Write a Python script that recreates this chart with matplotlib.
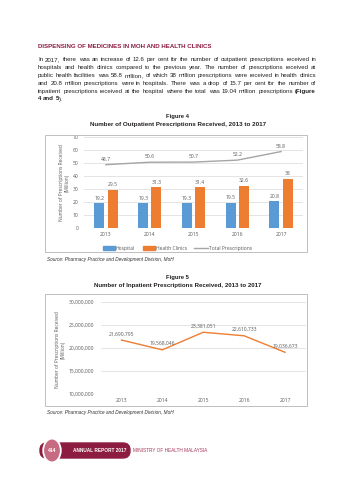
import matplotlib
matplotlib.use("Agg")
import matplotlib.pyplot as plt
from matplotlib.patches import Rectangle, FancyBboxPatch, Circle
from matplotlib.lines import Line2D

# ---------------- data ----------------
years = ["2013", "2014", "2015", "2016", "2017"]
hospital = [19.2, 19.3, 19.3, 19.5, 20.8]
clinics = [29.5, 31.3, 31.4, 32.6, 38]
total = [48.7, 50.6, 50.7, 52.2, 58.8]
hospital_labels = ["19.2", "19.3", "19.3", "19.5", "20.8"]
clinics_labels = ["29.5", "31.3", "31.4", "32.6", "38"]
total_labels = ["48.7", "50.6", "50.7", "52.2", "58.8"]
y1_ticks = [0, 10, 20, 30, 40, 50, 60, 70]

inpatient = [21690795, 19568046, 23381051, 22610733, 19036673]
y2_ticks = [10000000, 15000000, 20000000, 25000000, 30000000]

heading = "DISPENSING OF MEDICINES IN MOH AND HEALTH CLINICS"
para_lines = [
    [("In 2017, there was an increase of 12.6 per cent for the number of outpatient prescriptions received in", "normal")],
    [("hospitals and health clinics compared to the previous year. The number of prescriptions received at", "normal")],
    [("public health facilities was 58.8 million, of which 38 million prescriptions were received in health clinics", "normal")],
    [("and 20.8 million prescriptions were in hospitals. There was a drop of 15.7 per cent for the number of", "normal")],
    [("inpatient prescriptions received at the hospital where the total was 19.04 million prescriptions", "normal"), ("(Figure", "bold")],
    [("4 and 5", "bold"), (").", "normal")],
]
fig4_label = "Figure 4"
fig4_title = "Number of Outpatient Prescriptions Received, 2013 to 2017"
fig5_label = "Figure 5"
fig5_title = "Number of Inpatient Prescriptions Received, 2013 to 2017"
ylabel = "Number of Prescriptions Received\n(Million)"
source = "Source: Pharmacy Practice and Development Division, MoH"

# ---------------- styles ----------------
W, H = 355, 480
MAROON = "#8C1D40"
BLUE = "#5B9BD5"
ORANGE = "#ED7D31"
GREY = "#A5A5A5"
TXT = "#595959"
GRID = "#D9D9D9"
PAGEFONT = ["Liberation Sans", "DejaVu Sans"]
CHARTFONT = ["Open Sans", "DejaVu Sans"]

fig = plt.figure(figsize=(W / 100, H / 100), dpi=100)
fig.patch.set_facecolor("white")
renderer = fig.canvas.get_renderer()


def P(x, y):
    return x / W, 1 - y / H


def ftext(x, y, s, **kw):
    kw.setdefault("va", "center")
    kw.setdefault("family", PAGEFONT)
    return fig.text(*P(x, y), s, **kw)


def fit(x, y, s, width, ha="left", **kw):
    t = ftext(x, y, s, fontsize=5, ha=ha, **kw)
    bb = t.get_window_extent(renderer)
    t.set_fontsize(5 * width / bb.width)
    return t


def wwidth(s, fs, weight):
    t = ftext(100, 100, s, fontsize=fs, fontweight=weight)
    w = t.get_window_extent(renderer).width
    t.remove()
    return w


# ---------------- page text ----------------
fit(38, 46.5, heading, 179, color=MAROON, fontweight="bold")

x0, x1 = 38, 316
# font size chosen so the widest justified line fits the column naturally
nat = []
for segs in para_lines[:-1]:
    s = " ".join(t for t, _ in segs)
    nat.append(wwidth(s, 10, "normal"))
FS = 10 * (x1 - x0 - 2) / max(nat)

line_y = [59.5, 67.4, 75.3, 83.2, 91.1, 99.0]
for i, segs in enumerate(para_lines):
    words = []
    for s, wt in segs:
        for w in s.split(" "):
            words.append((w, wt))
    y = line_y[i]
    if i == len(para_lines) - 1:
        x = x0
        sp = wwidth("a b", FS, "normal") - wwidth("ab", FS, "normal")
        for w, wt in words:
            ftext(x, y, w, fontsize=FS, fontweight=wt, color="#231F20")
            x += wwidth(w, FS, wt) + (0 if w == "5" else sp)
        continue
    widths = [wwidth(w, FS, wt) for w, wt in words]
    gap = ((x1 - x0) - sum(widths)) / (len(words) - 1)
    x = x0
    for (w, wt), wd in zip(words, widths):
        ftext(x, y, w, fontsize=FS, fontweight=wt, color="#231F20")
        x += wd + gap

fit(177.5, 116.5, fig4_label, 23, ha="center", fontweight="bold", color="#231F20")
fit(178.5, 124.5, fig4_title, 177, ha="center", fontweight="bold", color="#231F20")
fit(177.5, 278, fig5_label, 23, ha="center", fontweight="bold", color="#231F20")
fit(178, 286, fig5_title, 170, ha="center", fontweight="bold", color="#231F20")

# chart boxes
for (bx0, by0, bx1, by1) in [(45, 134.5, 307, 252), (45, 293.5, 307, 405.5)]:
    fig.patches.append(Rectangle(P(bx0, by1), (bx1 - bx0) / W, (by1 - by0) / H,
                                 transform=fig.transFigure, fill=False,
                                 edgecolor="#BFBFBF", lw=0.7))

# ---------------- chart 1 ----------------
ax1 = fig.add_axes([84 / W, 1 - 228 / H, (303 - 84) / W, (228 - 137) / H])
xs = list(range(len(years)))
bw = 0.23
off = 0.152
ax1.bar([x - off for x in xs], hospital, width=bw, color=BLUE, zorder=3)
ax1.bar([x + off for x in xs], clinics, width=bw, color=ORANGE, zorder=3)
ax1.plot(xs, total, color=GREY, lw=1.0, zorder=4)
lab_kw = dict(textcoords="offset points", ha="center", va="bottom",
              fontsize=3.6, color=TXT, family=CHARTFONT)
for x, v, s in zip(xs, hospital, hospital_labels):
    ax1.annotate(s, (x - off, v), xytext=(0, 1.6), **lab_kw)
for x, v, s in zip(xs, clinics, clinics_labels):
    ax1.annotate(s, (x + off, v), xytext=(0, 1.6), **lab_kw)
for x, v, s in zip(xs, total, total_labels):
    ax1.annotate(s, (x, v), xytext=(0, 2.2), **lab_kw)
ax1.set_xlim(-0.5, 4.5)
ax1.set_ylim(0, 70)
ax1.set_yticks(y1_ticks)
ax1.set_xticks(xs)
ax1.set_xticklabels(years)
ax1.grid(axis="y", color=GRID, lw=0.5, zorder=0)
ax1.set_axisbelow(True)
for sp in ax1.spines.values():
    sp.set_visible(False)
ax1.tick_params(axis="both", length=0, labelsize=3.6, labelcolor=TXT)
ax1.tick_params(axis="y", pad=4.2)
ax1.tick_params(axis="x", pad=3.0)
for lbl in ax1.get_xticklabels() + ax1.get_yticklabels():
    lbl.set_family(CHARTFONT)
ax1.set_facecolor("none")
ftext(64.5, 182.5, ylabel, rotation=90, ha="center", fontsize=3.5, color=TXT,
      family=CHARTFONT, linespacing=1.25, multialignment="center")

# legend 1
ly = 248
fig.patches.append(Rectangle(P(103, ly + 2), 12 / W, 4 / H, transform=fig.transFigure,
                             color=BLUE))
ftext(116, ly, "Hospital", fontsize=3.6, color=TXT, family=CHARTFONT)
fig.patches.append(Rectangle(P(143, ly + 2), 12 / W, 4 / H, transform=fig.transFigure,
                             color=ORANGE))
ftext(156.5, ly, "Health Clinics", fontsize=3.6, color=TXT, family=CHARTFONT)
fig.lines.append(Line2D([194 / W, 208 / W], [1 - ly / H, 1 - ly / H],
                        transform=fig.transFigure, color=GREY, lw=1.0))
ftext(209, ly, "Total Prescriptions", fontsize=3.6, color=TXT, family=CHARTFONT)

ftext(47, 259.5, source, fontsize=3.4, style="italic", color="#333333")

# ---------------- chart 2 ----------------
ax2 = fig.add_axes([101 / W, 1 - 394 / H, (305.5 - 101) / W, (394 - 301.7) / H])
ax2.plot(xs, inpatient, color=ORANGE, lw=1.0, zorder=3)
for x, v in zip(xs, inpatient):
    ax2.annotate(f"{v:,}", (x, v), xytext=(0, 2.6), **lab_kw)
ax2.set_xlim(-0.5, 4.5)
ax2.set_ylim(10000000, 30000000)
ax2.set_yticks(y2_ticks)
ax2.set_yticklabels([f"{t:,}" for t in y2_ticks])
ax2.set_xticks(xs)
ax2.set_xticklabels(years)
ax2.grid(axis="y", color=GRID, lw=0.5, zorder=0)
for sp in ax2.spines.values():
    sp.set_visible(False)
ax2.tick_params(axis="both", length=0, labelsize=3.6, labelcolor=TXT)
ax2.tick_params(axis="y", pad=5.0)
ax2.tick_params(axis="x", pad=3.0)
for lbl in ax2.get_xticklabels() + ax2.get_yticklabels():
    lbl.set_family(CHARTFONT)
ax2.set_facecolor("none")
ftext(60, 350, ylabel, rotation=90, ha="center", fontsize=3.5, color=TXT,
      family=CHARTFONT, linespacing=1.25, multialignment="center")

ftext(47, 412.5, source, fontsize=3.4, style="italic", color="#333333")

# ---------------- footer ----------------
fig.patches.append(FancyBboxPatch(P(40, 458), 90 / W, 15 / H,
                                  boxstyle="round,pad=0,rounding_size=0.02",
                                  transform=fig.transFigure, color=MAROON,
                                  mutation_aspect=W / H))
fig.patches.append(Circle(P(52, 450.5), 8.8 / W, transform=fig.transFigure,
                          facecolor="#C76B82", edgecolor="white", lw=1.3))
ftext(52, 450.5, "414", ha="center", fontsize=3.6, color="white", fontweight="bold")
fit(73, 450.5, "ANNUAL REPORT 2017", 54, color="white", fontweight="bold")
fit(133, 450.5, "MINISTRY OF HEALTH MALAYSIA", 77, color="#A8375A")

fig.savefig("out.png", dpi=100, facecolor="white")
